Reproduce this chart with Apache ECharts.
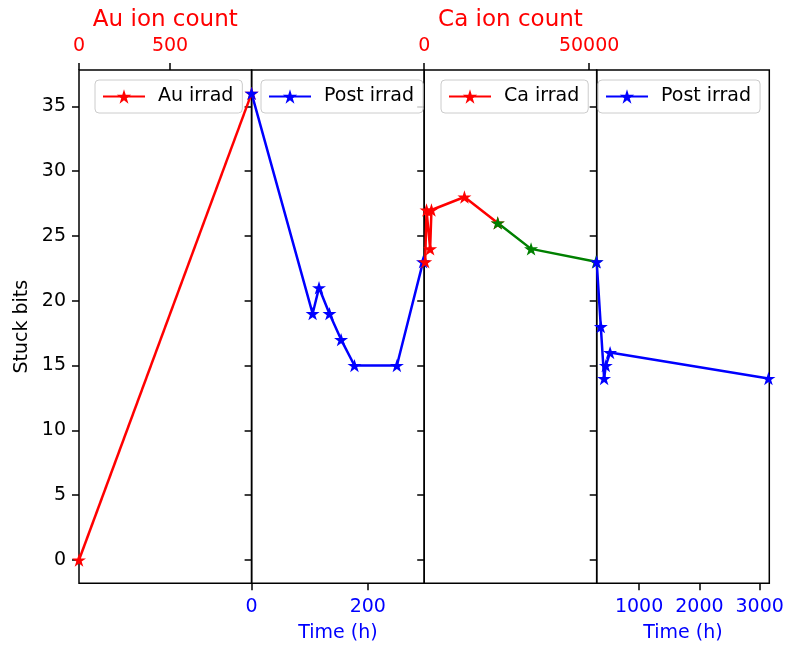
<!DOCTYPE html>
<html>
<head>
<meta charset="utf-8">
<script src="https://cdn.jsdelivr.net/npm/echarts@6/dist/echarts.min.js"></script>
<style>
  html, body { margin: 0; padding: 0; background: #fff; }
  #chart { width: 786px; height: 646px; }
</style>
</head>
<body>
<div id="chart"></div>
<script>
// data
var auCount = [0, 948];
var auBits = [0, 36];
var post1Time = [0, 105, 116, 134, 154, 177, 250, 295];
var post1Bits = [36, 19, 21, 19, 17, 15, 15, 23];
var caCount = [300, 700, 1800, 2200, 12200, 22300];
var caBits = [23, 27, 24, 27, 28, 26];
var ca2Count = [22300, 32400, 52100];
var ca2Bits = [26, 24, 23];
var post2Time = [297, 365, 420, 448, 519, 3145];
var post2Bits = [23, 18, 14, 15, 16, 14];

var yTicks = [0, 5, 10, 15, 20, 25, 30, 35];
var auTicks = [0, 500];
var caTicks = [0, 50000];
var time1Ticks = [0, 200];
var time2Ticks = [1000, 2000, 3000];

var FONT = 'DejaVu Sans';
var FS = 19;
var STAR = 'path://M0,-10 L2.245,-3.09 L9.511,-3.09 L3.633,1.18 L5.878,8.09 L0,3.82 L-5.878,8.09 L-3.633,1.18 L-9.511,-3.09 L-2.245,-3.09 Z';

function pairs(xs, ys) {
    var out = [];
    for (var i = 0; i < xs.length; i++) {
        out.push([xs[i], ys[i]]);
    }
    return out;
}

function plain(v) { return String(v); }

// one grid per panel, left edges in px
var panels = [
    {left: 79, width: 172.6},
    {left: 251.6, width: 172.6},
    {left: 424.2, width: 172.5},
    {left: 596.7, width: 172.6}
];

var grids = panels.map(function(p){
    return {
        left: p.left, width: p.width, top: 70, height: 513.3,
        outerBoundsMode: 'none',
        show: true, borderColor: '#000', borderWidth: 1.5,
        backgroundColor: 'transparent'
    };
});

function xAxis(idx, pos, min, max, ticks, color, name, gap) {
    return {
        type: 'value', gridIndex: idx, position: pos,
        min: min, max: max,
        axisLine: {show: false, onZero: false},
        splitLine: {show: false},
        axisTick: {show: true, customValues: ticks, length: 7, lineStyle: {color: '#000', width: 1.5}},
        axisLabel: {show: true, customValues: ticks, formatter: plain, color: color, fontSize: FS, fontFamily: FONT, margin: 14},
        name: name, nameLocation: 'middle', nameGap: gap,
        nameTextStyle: {color: color, fontSize: name === 'Time (h)' ? FS : 23, fontFamily: FONT}
    };
}

var xAxes = [
    xAxis(0, 'top', 0, 948, auTicks, '#ff0000', 'Au ion count', 38),
    xAxis(1, 'bottom', 0, 297, time1Ticks, '#0000ff', 'Time (h)', 40),
    xAxis(2, 'top', 0, 52300, caTicks, '#ff0000', 'Ca ion count', 38),
    xAxis(3, 'bottom', 297, 3159, time2Ticks, '#0000ff', 'Time (h)', 40)
];

var yAxes = panels.map(function(p, i){
    return {
        type: 'value', gridIndex: i, min: -1.8, max: 37.8,
        axisLine: {show: false, onZero: false},
        splitLine: {show: false},
        axisTick: {show: true, customValues: yTicks, length: 7, lineStyle: {color: '#000', width: 1.5}},
        axisLabel: {show: i === 0, customValues: yTicks, formatter: plain, color: '#000', fontSize: FS, fontFamily: FONT, margin: 13},
        name: i === 0 ? 'Stuck bits' : '',
        nameLocation: 'middle', nameGap: 47,
        nameTextStyle: {color: '#000', fontSize: FS, fontFamily: FONT}
    };
});

function lineSeries(name, idx, data, color) {
    return {
        name: name, type: 'line', xAxisIndex: idx, yAxisIndex: idx,
        data: data,
        symbol: STAR, symbolSize: 14, symbolKeepAspect: true,
        showAllSymbol: true,
        lineStyle: {color: color, width: 2.5},
        itemStyle: {color: color, borderWidth: 0},
        emphasis: {disabled: true},
        animation: false
    };
}

function legend(name, left) {
    return {
        data: [name], left: left, top: 80,
        selectedMode: false,
        itemWidth: 42, itemHeight: 18,
        padding: [7, 9, 7, 7],
        borderColor: '#cccccc', borderWidth: 1, borderRadius: 4,
        backgroundColor: 'rgba(255,255,255,0.8)',
        textStyle: {color: '#000', fontSize: FS, fontFamily: FONT, lineHeight: 19, padding: [0, 0, 0, 8]}
    };
}

var myChart = echarts.init(document.getElementById('chart'));
var option = {
    backgroundColor: '#fff',
    animation: false,
    grid: grids,
    xAxis: xAxes,
    yAxis: yAxes,
    legend: [
        legend('Au irrad', 95),
        legend('Post irrad', 261),
        legend('Ca irrad', 441),
        legend('Post irrad', 598)
    ],
    series: [
        lineSeries('Au irrad', 0, pairs(auCount, auBits), '#ff0000'),
        lineSeries('Post irrad', 1, pairs(post1Time, post1Bits), '#0000ff'),
        lineSeries('Ca irrad', 2, pairs(caCount, caBits), '#ff0000'),
        lineSeries('Ca irrad 2', 2, pairs(ca2Count, ca2Bits), '#008000'),
        lineSeries('Post irrad', 3, pairs(post2Time, post2Bits), '#0000ff')
    ]
};
myChart.setOption(option);
</script>
</body>
</html>
